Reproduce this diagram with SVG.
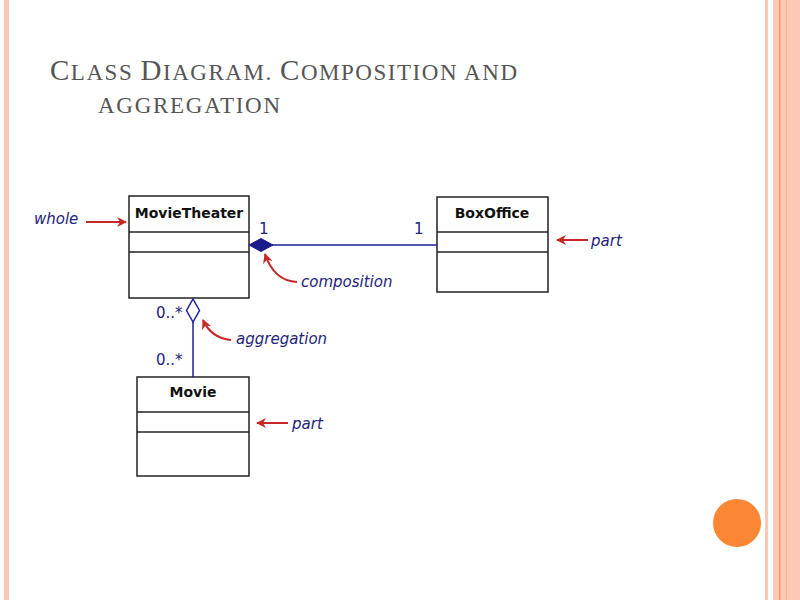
<svg xmlns="http://www.w3.org/2000/svg" width="800" height="600" viewBox="0 0 800 600">
<defs>
<style>
.box{fill:#fff;stroke:#222;stroke-width:1.5}
.div{stroke:#222;stroke-width:1.5}
.cls{font-family:"DejaVu Sans",Verdana,sans-serif;font-weight:bold;font-size:14px;fill:#111;text-anchor:middle}
.note{font-family:"DejaVu Sans",Verdana,sans-serif;font-style:italic;font-size:15px;fill:#23237a}
.mult{font-family:"DejaVu Sans",Verdana,sans-serif;font-size:15px;fill:#23237a}
.assoc{stroke:#1f1f99;stroke-width:1.5;fill:none}
.red{stroke:#c62828;stroke-width:2;fill:none}
.title{font-family:"Liberation Serif","Times New Roman",serif;font-size:23px;fill:#555}
.cap{font-size:29px}
</style>
<marker id="ra" viewBox="0 0 10 10" refX="9" refY="5" markerWidth="5" markerHeight="5" orient="auto" markerUnits="strokeWidth">
<path d="M0,0 L10,5 L0,10 L3,5 Z" fill="#c62828"/>
</marker>
</defs>
<rect width="800" height="600" fill="#fff"/>
<!-- decorative stripes -->
<rect x="4" y="0" width="5" height="600" fill="#f9c9b6"/>
<rect x="765" y="0" width="3" height="600" fill="#f9c9b6"/>
<rect x="773" y="0" width="27" height="600" fill="#fbc9b4"/>
<rect x="779" y="0" width="1.5" height="600" fill="#f59a6e"/>
<rect x="786" y="0" width="1" height="600" fill="#f7b293"/>
<circle cx="737" cy="523" r="24" fill="#fb8735"/>
<!-- title -->
<text class="title" x="50" y="80" textLength="467" lengthAdjust="spacing"><tspan class="cap">C</tspan>LASS <tspan class="cap">D</tspan>IAGRAM. <tspan class="cap">C</tspan>OMPOSITION AND</text>
<text class="title" x="98" y="113" textLength="182" lengthAdjust="spacing">AGGREGATION</text>
<!-- nodes -->
<g id="movietheater">
<rect class="box" x="129" y="196" width="120" height="102"/>
<line class="div" x1="129" y1="232" x2="249" y2="232"/>
<line class="div" x1="129" y1="252" x2="249" y2="252"/>
<text class="cls" x="189" y="218">MovieTheater</text>
</g>
<g id="boxoffice">
<rect class="box" x="437" y="197" width="111" height="95"/>
<line class="div" x1="437" y1="232" x2="548" y2="232"/>
<line class="div" x1="437" y1="252" x2="548" y2="252"/>
<text class="cls" x="492" y="218">BoxOffice</text>
</g>
<g id="movie">
<rect class="box" x="137" y="377" width="112" height="99"/>
<line class="div" x1="137" y1="412" x2="249" y2="412"/>
<line class="div" x1="137" y1="432" x2="249" y2="432"/>
<text class="cls" x="193" y="397">Movie</text>
</g>
<!-- connectors -->
<g id="connectors">
<line class="assoc" x1="272" y1="245" x2="437" y2="245"/>
<path d="M249,245 L261,238.5 L273,245 L261,251.5 Z" fill="#1a1a8c" stroke="#1a1a8c" stroke-width="1"/>
<line class="assoc" x1="193" y1="322" x2="193" y2="377"/>
<path d="M193,299 L199.5,310.5 L193,322 L186.5,310.5 Z" fill="#fff" stroke="#1f1f99" stroke-width="1.5"/>
<text class="mult" x="259" y="234">1</text>
<text class="mult" x="414" y="234">1</text>
<text class="mult" x="156" y="318">0..*</text>
<text class="mult" x="156" y="365">0..*</text>
</g>
<!-- annotations -->
<g id="annotations">
<text class="note" x="34" y="224">whole</text>
<line class="red" x1="86" y1="222" x2="126" y2="222" marker-end="url(#ra)"/>
<text class="note" x="591" y="246">part</text>
<line class="red" x1="588" y1="240" x2="557" y2="240" marker-end="url(#ra)"/>
<text class="note" x="301" y="287">composition</text>
<path class="red" d="M297,282 Q274,281 265,254" marker-end="url(#ra)"/>
<text class="note" x="236" y="344">aggregation</text>
<path class="red" d="M231,340 Q211,338 203,320" marker-end="url(#ra)"/>
<text class="note" x="292" y="429">part</text>
<line class="red" x1="288" y1="423" x2="257" y2="423" marker-end="url(#ra)"/>
</g>
</svg>
